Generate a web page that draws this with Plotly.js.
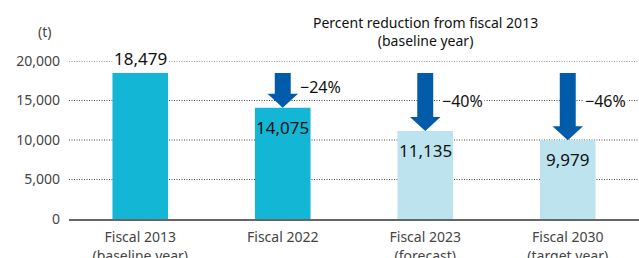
<!DOCTYPE html>
<html><head><meta charset="utf-8">
<script src="https://cdn.plot.ly/plotly-3.0.1.min.js"></script>
<style>html,body{margin:0;padding:0;background:#fff}#c{width:639px;height:258px}</style>
</head><body><div id="c"></div>
<script>
const categories = ['Fiscal 2013<br>(baseline year)', 'Fiscal 2022', 'Fiscal 2023<br>(forecast)', 'Fiscal 2030<br>(target year)'];
const values = [18479, 14075, 11135, 9979];
const valueLabels = ['18,479', '14,075', '11,135', '9,979'];
const reductions = ['', '\u221224%', '\u221240%', '\u221246%'];
const barColors = ['#14b6d6', '#14b6d6', '#bde3ef', '#bde3ef'];
const yTicks = [0, 5000, 10000, 15000, 20000];

const FONT = 'Noto Sans, Open Sans, sans-serif';
const xIdx = categories.map((c, i) => i);
const base = values[0];
const pxPerUnit = 158 / 20000;
const headH = 14 / pxPerUnit;

const shapes = [];
const annotations = [];
yTicks.filter(v => v > 0).forEach(v => shapes.push({
  type: 'line', xref: 'paper', yref: 'y', x0: 0, x1: 1, y0: v, y1: v,
  line: {color: '#444', width: 1, dash: '1px,1.5px'}, layer: 'below'
}));
values.forEach((v, i) => {
  if (i === 0) {
    annotations.push({x: i, y: v, xref: 'x', yref: 'y', text: valueLabels[i], showarrow: false,
      yanchor: 'bottom', yshift: 1, font: {family: FONT, size: 17, color: '#111'}, bgcolor: '#fff', borderpad: 1});
    return;
  }
  const sw = 0.056, hw = 0.107;
  const yh = v + headH;
  const path = `M ${i - sw} ${base} L ${i + sw} ${base} L ${i + sw} ${yh} L ${i + hw} ${yh} L ${i} ${v} L ${i - hw} ${yh} L ${i - sw} ${yh} Z`;
  shapes.push({type: 'path', xref: 'x', yref: 'y', path: path, fillcolor: '#005ba9', line: {width: 0}, layer: 'above'});
  annotations.push({x: i, y: v, xref: 'x', yref: 'y', text: valueLabels[i], showarrow: false,
    yanchor: 'top', yshift: -6, font: {family: FONT, size: 17, color: '#111'}});
  const ry = i === 1 ? base - 1800 : base - 3500;
  annotations.push({x: i + 0.105, y: ry, xref: 'x', yref: 'y', text: reductions[i], showarrow: false,
    xanchor: 'left', yanchor: 'middle', font: {family: FONT, size: 16, color: '#111'}, bgcolor: '#fff', borderpad: 1});
});
annotations.push({x: 2, y: 1, xref: 'x', yref: 'paper', yshift: 9, text: 'Percent reduction from fiscal 2013<br>(baseline year)',
  showarrow: false, yanchor: 'bottom', font: {family: FONT, size: 14, color: '#111'}, bgcolor: '#fff'});
annotations.push({x: 0, y: 1, xref: 'paper', yref: 'paper', xshift: -16, yshift: 18, text: '(t)', showarrow: false,
  xanchor: 'right', yanchor: 'bottom', font: {family: FONT, size: 14, color: '#444'}});

Plotly.newPlot('c', [{
  type: 'bar', x: xIdx, y: values, marker: {color: barColors, line: {width: 0}}, width: 0.39,
  hoverinfo: 'skip'
}], {
  width: 639, height: 258,
  margin: {l: 69, r: 0, t: 61, b: 39},
  paper_bgcolor: '#fff', plot_bgcolor: '#fff',
  showlegend: false,
  xaxis: {range: [-0.5, 3.5], tickmode: 'array', tickvals: xIdx, ticktext: categories, showgrid: false, zeroline: false,
    showline: true, linecolor: '#666', linewidth: 1.5, ticks: '', ticklabelstandoff: 5, tickfont: {family: FONT, size: 14, color: '#444'}, fixedrange: true},
  yaxis: {range: [0, 20000], tickmode: 'array', tickvals: yTicks, tickformat: ',', showgrid: false, zeroline: false,
    ticks: '', ticklabelstandoff: 8, tickfont: {family: FONT, size: 14, color: '#444'}, fixedrange: true},
  shapes: shapes, annotations: annotations
}, {displayModeBar: false, staticPlot: true});
</script></body></html>
